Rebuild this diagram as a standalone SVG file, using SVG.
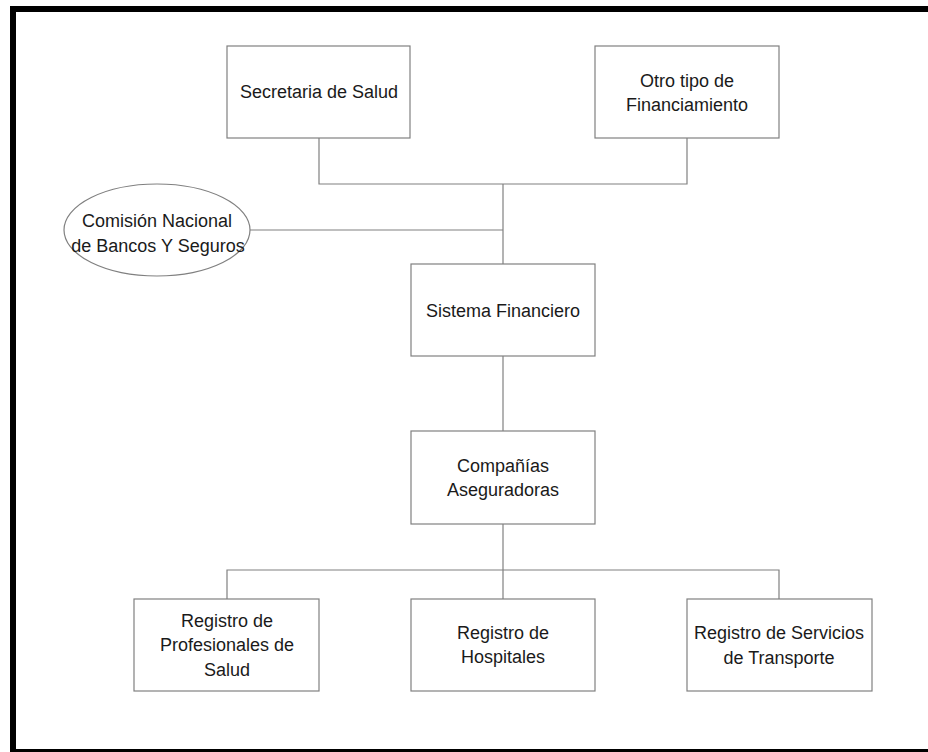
<svg xmlns="http://www.w3.org/2000/svg" width="928" height="752" viewBox="0 0 928 752">
<style>
.box{fill:#fff;stroke:#808080;stroke-width:1.2}
.ln{fill:none;stroke:#808080;stroke-width:1.2}
text{font-family:"Liberation Sans",Arial,sans-serif;font-size:18px;fill:#1a1a1a;text-anchor:middle}
</style>
<rect x="0" y="0" width="928" height="752" fill="#fff"/>
<rect x="13" y="9" width="930" height="743" fill="none" stroke="#000" stroke-width="6"/>
<g id="connectors">
<path class="ln" d="M319,138 V184 H687 V138"/>
<path class="ln" d="M503,184 V264"/>
<path class="ln" d="M250,230 H503"/>
<path class="ln" d="M503,356 V431"/>
<path class="ln" d="M503,524 V599"/>
<path class="ln" d="M227,599 V570 H779 V599"/>
</g>
<g id="secretaria">
<rect class="box" x="227" y="46" width="183" height="92"/>
<text x="319" y="98">Secretaria de Salud</text>
</g>
<g id="otro">
<rect class="box" x="595" y="46" width="184" height="92"/>
<text x="687" y="86.5">Otro tipo de</text>
<text x="687" y="110.5">Financiamiento</text>
</g>
<g id="comision">
<ellipse class="box" cx="157" cy="230" rx="93" ry="46"/>
<text x="157" y="226.5">Comisión Nacional</text>
<text x="158" y="251.5">de Bancos Y Seguros</text>
</g>
<g id="sistema">
<rect class="box" x="411" y="264" width="184" height="92"/>
<text x="503" y="316.5">Sistema Financiero</text>
</g>
<g id="companias">
<rect class="box" x="411" y="431" width="184" height="93"/>
<text x="503" y="471.5">Compañías</text>
<text x="503" y="496">Aseguradoras</text>
</g>
<g id="profesionales">
<rect class="box" x="134" y="599" width="185" height="92"/>
<text x="227" y="626.5">Registro de</text>
<text x="227" y="651">Profesionales de</text>
<text x="227" y="675.5">Salud</text>
</g>
<g id="hospitales">
<rect class="box" x="411" y="599" width="184" height="92"/>
<text x="503" y="638.5">Registro de</text>
<text x="503" y="662.5">Hospitales</text>
</g>
<g id="transporte">
<rect class="box" x="687" y="599" width="185" height="92"/>
<text x="779" y="638.5">Registro de Servicios</text>
<text x="779" y="663.5">de Transporte</text>
</g>
</svg>
